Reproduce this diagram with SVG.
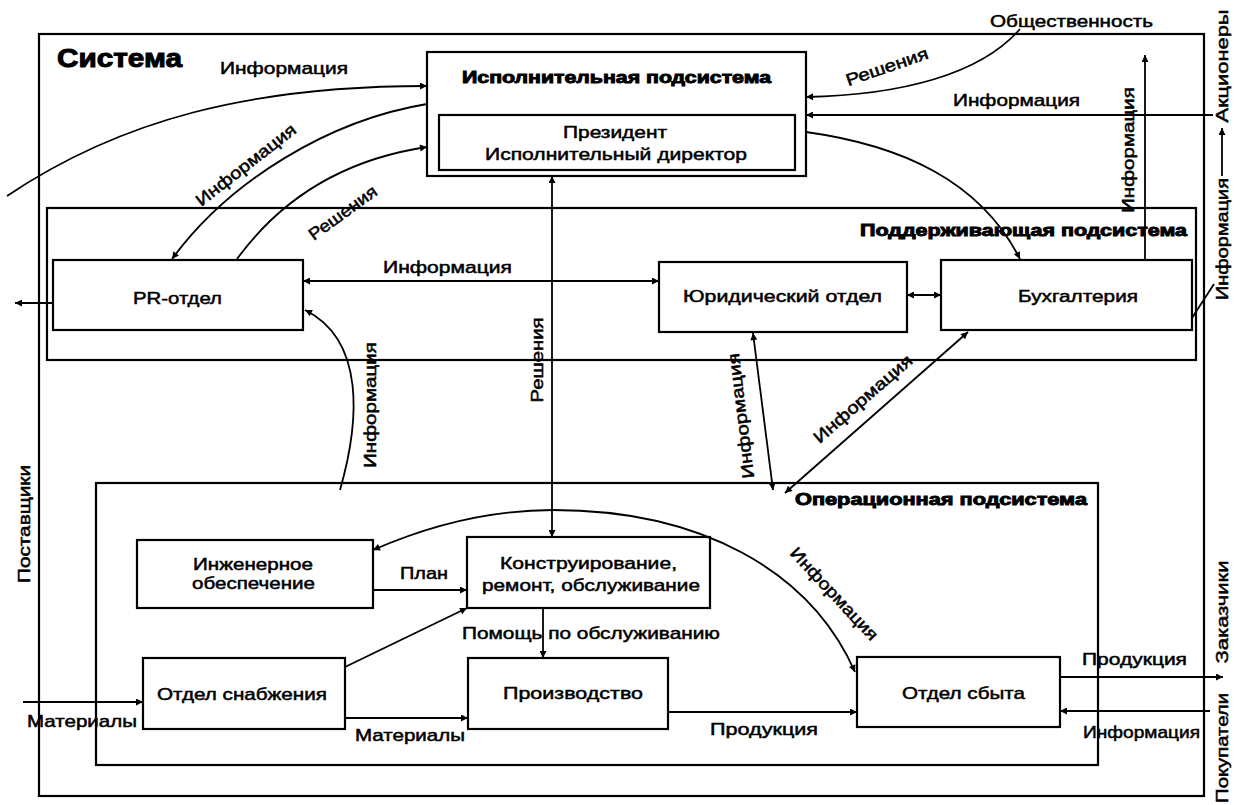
<svg xmlns="http://www.w3.org/2000/svg" width="1247" height="805" viewBox="0 0 1247 805">
<defs>
<style>
.box{fill:#fff;stroke:#000;stroke-width:2.2}
.frame{fill:none;stroke:#000;stroke-width:2.2}
.c{fill:none;stroke:#000;stroke-width:1.8}
.t{font-family:"Liberation Sans",Arial,sans-serif;font-size:17px;fill:#000;stroke:#000;stroke-width:0.5}
.b{font-family:"Liberation Sans",Arial,sans-serif;font-size:16px;font-weight:bold;fill:#000;stroke:#000;stroke-width:0.9}
.v{text-anchor:middle;dominant-baseline:central}
</style>
<marker id="ah" viewBox="0 0 10 10" refX="10" refY="5" markerWidth="9" markerHeight="7" markerUnits="userSpaceOnUse" orient="auto-start-reverse"><path d="M0,0 L10,5 L0,10 z" fill="#000"/></marker>
</defs>
<rect width="1247" height="805" fill="#fff"/>

<g id="system">
<rect class="frame" x="39" y="34" width="1165" height="762"/>
<text class="b" x="57" y="67" style="font-size:26px;stroke-width:1" textLength="125" lengthAdjust="spacingAndGlyphs">Система</text>
</g>

<g id="support">
<rect class="frame" x="47" y="208" width="1149" height="152"/>
<text class="b" x="860" y="236" textLength="327" lengthAdjust="spacingAndGlyphs">Поддерживающая подсистема</text>
</g>

<g id="operational">
<rect class="frame" x="96" y="483" width="1002" height="282"/>
<text class="b" x="795" y="505" textLength="292" lengthAdjust="spacingAndGlyphs">Операционная подсистема</text>
</g>

<g id="executive">
<rect class="box" x="427" y="52" width="379" height="124"/>
<text class="b" x="462" y="83" textLength="309" lengthAdjust="spacingAndGlyphs">Исполнительная подсистема</text>
<rect class="box" x="439" y="115" width="356" height="55"/>
<text class="t" x="563" y="138" textLength="104" lengthAdjust="spacingAndGlyphs">Президент</text>
<text class="t" x="485" y="160" textLength="262" lengthAdjust="spacingAndGlyphs">Исполнительный директор</text>
</g>

<g id="pr">
<rect class="box" x="53" y="260" width="250" height="70"/>
<text class="t" x="133" y="304" textLength="89" lengthAdjust="spacingAndGlyphs">PR-отдел</text>
</g>

<g id="legal">
<rect class="box" x="659" y="262" width="248" height="70"/>
<text class="t" x="683" y="302" textLength="199" lengthAdjust="spacingAndGlyphs">Юридический отдел</text>
</g>

<g id="accounting">
<rect class="box" x="941" y="260" width="251" height="70"/>
<text class="t" x="1018" y="302" textLength="120" lengthAdjust="spacingAndGlyphs">Бухгалтерия</text>
</g>

<g id="engineering">
<rect class="box" x="137" y="540" width="236" height="68"/>
<text class="t" x="193" y="570" textLength="120" lengthAdjust="spacingAndGlyphs">Инженерное</text>
<text class="t" x="192" y="589" textLength="123" lengthAdjust="spacingAndGlyphs">обеспечение</text>
</g>

<g id="construction">
<rect class="box" x="467" y="537" width="243" height="71"/>
<text class="t" x="500" y="569" textLength="177" lengthAdjust="spacingAndGlyphs">Конструирование,</text>
<text class="t" x="482" y="591" textLength="218" lengthAdjust="spacingAndGlyphs">ремонт, обслуживание</text>
</g>

<g id="supply">
<rect class="box" x="143" y="658" width="202" height="71"/>
<text class="t" x="157" y="700" textLength="170" lengthAdjust="spacingAndGlyphs">Отдел снабжения</text>
</g>

<g id="production">
<rect class="box" x="468" y="658" width="200" height="71"/>
<text class="t" x="503" y="699" textLength="140" lengthAdjust="spacingAndGlyphs">Производство</text>
</g>

<g id="sales">
<rect class="box" x="857" y="657" width="203" height="70"/>
<text class="t" x="902" y="699" textLength="123" lengthAdjust="spacingAndGlyphs">Отдел сбыта</text>
</g>

<g id="external">
<text class="t" x="990" y="27" textLength="163" lengthAdjust="spacingAndGlyphs">Общественность</text>
<text class="t v" transform="translate(1222,66) rotate(-90)" textLength="113" lengthAdjust="spacingAndGlyphs">Акционеры</text>
<text class="t v" transform="translate(24,524) rotate(-90)" textLength="118" lengthAdjust="spacingAndGlyphs">Поставщики</text>
<text class="t v" transform="translate(1222,612) rotate(-90)" textLength="103" lengthAdjust="spacingAndGlyphs">Заказчики</text>
<text class="t v" transform="translate(1222,748) rotate(-90)" textLength="110" lengthAdjust="spacingAndGlyphs">Покупатели</text>
</g>

<g id="connectors">
<path class="c" d="M7,196 C120,120 250,86 427,86" marker-end="url(#ah)"/>
<path class="c" d="M427,104 C330,120 230,180 172,259" marker-end="url(#ah)"/>
<path class="c" d="M237,259 C280,200 340,160 427,147" marker-end="url(#ah)"/>
<path class="c" d="M1020,29 C980,75 900,95 806,97" marker-end="url(#ah)"/>
<path class="c" d="M1213,115 L806,115" marker-end="url(#ah)"/>
<path class="c" d="M806,132 C900,145 980,180 1020,259" marker-end="url(#ah)"/>
<path class="c" d="M1145,260 L1145,55" marker-end="url(#ah)"/>
<path class="c" d="M1192,318 L1214,284"/>
<path class="c" d="M1222,176 L1222,128" marker-end="url(#ah)"/>
<path class="c" d="M303,281 L659,281" marker-start="url(#ah)" marker-end="url(#ah)"/>
<path class="c" d="M907,295 L941,295" marker-start="url(#ah)" marker-end="url(#ah)"/>
<path class="c" d="M53,303 L15,303" marker-end="url(#ah)"/>
<path class="c" d="M552,176 L552,537" marker-start="url(#ah)" marker-end="url(#ah)"/>
<path class="c" d="M340,490 C360,420 365,340 305,310" marker-end="url(#ah)"/>
<path class="c" d="M753,333 L773,490" marker-start="url(#ah)" marker-end="url(#ah)"/>
<path class="c" d="M968,332 L785,493" marker-start="url(#ah)" marker-end="url(#ah)"/>
<path class="c" d="M373,550 C430,525 490,510 553,510 C700,510 810,570 855,672" marker-start="url(#ah)" marker-end="url(#ah)"/>
<path class="c" d="M373,590 L467,590" marker-end="url(#ah)"/>
<path class="c" d="M345,667 L467,608" marker-end="url(#ah)"/>
<path class="c" d="M543,608 L543,658" marker-end="url(#ah)"/>
<path class="c" d="M345,718 L468,718" marker-end="url(#ah)"/>
<path class="c" d="M23,702 L143,702" marker-end="url(#ah)"/>
<path class="c" d="M668,712 L857,712" marker-end="url(#ah)"/>
<path class="c" d="M1060,677 L1223,677" marker-end="url(#ah)"/>
<path class="c" d="M1210,711 L1060,711" marker-end="url(#ah)"/>

<text class="t" x="220" y="74" textLength="128" lengthAdjust="spacingAndGlyphs">Информация</text>
<text class="t v" transform="translate(246,165) rotate(-38)" textLength="122" lengthAdjust="spacingAndGlyphs">Информация</text>
<text class="t v" transform="translate(343,213) rotate(-36)" textLength="80" lengthAdjust="spacingAndGlyphs">Решения</text>
<text class="t v" transform="translate(887,67) rotate(-19)" textLength="86" lengthAdjust="spacingAndGlyphs">Решения</text>
<text class="t" x="953" y="106" textLength="127" lengthAdjust="spacingAndGlyphs">Информация</text>
<text class="t v" transform="translate(1128,150) rotate(-90)" textLength="126" lengthAdjust="spacingAndGlyphs">Информация</text>
<text class="t v" transform="translate(1222,239) rotate(-90)" textLength="122" lengthAdjust="spacingAndGlyphs">Информация</text>
<text class="t" x="383" y="273" textLength="129" lengthAdjust="spacingAndGlyphs">Информация</text>
<text class="t v" transform="translate(537,360) rotate(-90)" textLength="85" lengthAdjust="spacingAndGlyphs">Решения</text>
<text class="t v" transform="translate(370,405) rotate(-90)" textLength="126" lengthAdjust="spacingAndGlyphs">Информация</text>
<text class="t v" transform="translate(741,416) rotate(-97)" textLength="126" lengthAdjust="spacingAndGlyphs">Информация</text>
<text class="t v" transform="translate(863,399) rotate(-41)" textLength="125" lengthAdjust="spacingAndGlyphs">Информация</text>
<text class="t v" transform="translate(834,594) rotate(47)" textLength="120" lengthAdjust="spacingAndGlyphs">Информация</text>
<text class="t" x="400" y="579" textLength="48" lengthAdjust="spacingAndGlyphs">План</text>
<text class="t" x="462" y="639" textLength="258" lengthAdjust="spacingAndGlyphs">Помощь по обслуживанию</text>
<text class="t" x="27" y="727" textLength="110" lengthAdjust="spacingAndGlyphs">Материалы</text>
<text class="t" x="355" y="741" textLength="110" lengthAdjust="spacingAndGlyphs">Материалы</text>
<text class="t" x="710" y="735" textLength="108" lengthAdjust="spacingAndGlyphs">Продукция</text>
<text class="t" x="1082" y="665" textLength="105" lengthAdjust="spacingAndGlyphs">Продукция</text>
<text class="t" x="1083" y="738" textLength="117" lengthAdjust="spacingAndGlyphs">Информация</text>
</g>
</svg>
